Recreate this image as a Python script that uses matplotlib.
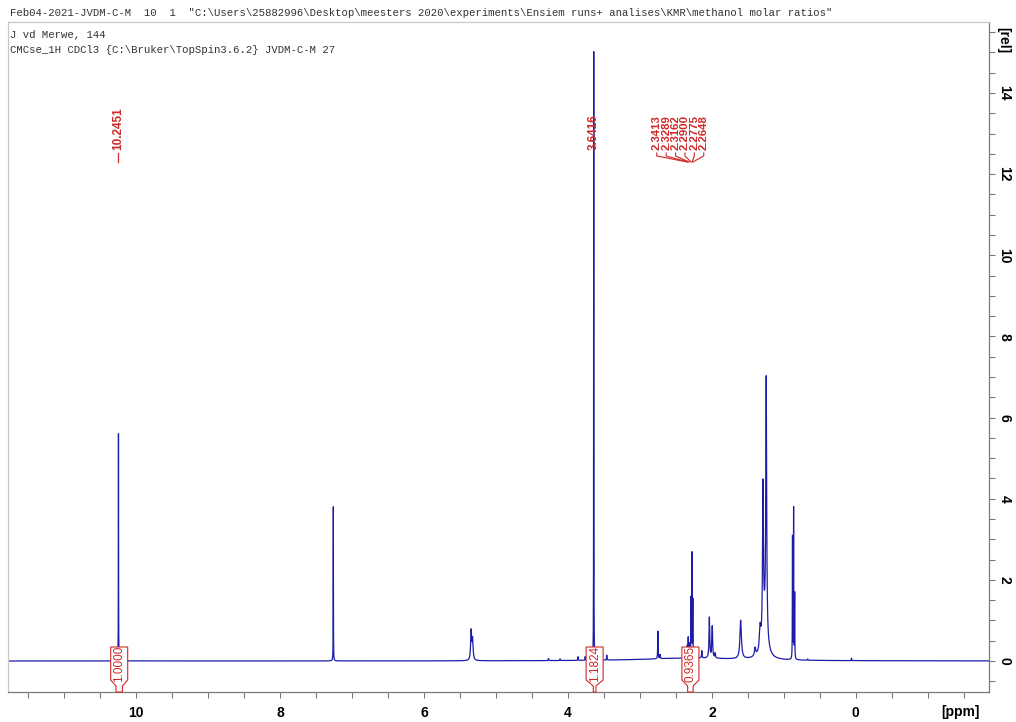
import numpy as np
import matplotlib.pyplot as plt
from matplotlib.ticker import MultipleLocator, FuncFormatter
from matplotlib.transforms import blended_transform_factory

# 1H spectrum, CDCl3 - peak table (ppm, relative height, half width in ppm)
peak_ppm = [10.2451, 7.26, 5.345, 5.325, 4.27, 4.11, 3.86, 3.76, 3.6416, 3.46,
            2.75, 2.72, 2.3413, 2.3289, 2.3162, 2.2900, 2.2775, 2.2648, 2.14,
            2.035, 1.995, 1.955, 1.60, 1.40, 1.33, 1.29, 1.245, 1.27,
            0.88, 0.8648, 0.85, 0.67, 0.06, 2.3]
peak_height = [5.6, 3.8, 0.72, 0.5, 0.05, 0.04, 0.09, 0.09, 15.0, 0.12,
               0.68, 0.1, 0.3, 0.5, 0.35, 1.45, 2.55, 1.4, 0.18,
               1.0, 0.78, 0.12, 0.95, 0.2, 0.5, 3.6, 6.3, 0.85,
               3.0, 3.7, 1.6, 0.03, 0.06, 0.07]
peak_hwhm = [0.0015, 0.0015, 0.008, 0.008, 0.004, 0.004, 0.003, 0.003, 0.0015, 0.003,
             0.003, 0.004, 0.002, 0.002, 0.002, 0.002, 0.002, 0.002, 0.004,
             0.006, 0.006, 0.005, 0.012, 0.01, 0.01, 0.007, 0.007, 0.04,
             0.002, 0.002, 0.002, 0.004, 0.003, 0.8]

# picked peaks
label_ppm = [10.2451, 3.6416]
group_ppm = [2.3413, 2.3289, 2.3162, 2.2900, 2.2775, 2.2648]

# integrals: region limits and values
int_left = [10.28, 3.648, 2.337]
int_right = [10.19, 3.611, 2.260]
int_value = ["1.0000", "1.1824", "0.9365"]

header = ('Feb04-2021-JVDM-C-M  10  1  "C:\\Users\\25882996\\Desktop\\meesters 2020'
          '\\experiments\\Ensiem runs+ analises\\KMR\\methanol molar ratios"')
info = ["J vd Merwe, 144",
        "CMCse_1H CDCl3 {C:\\Bruker\\TopSpin3.6.2} JVDM-C-M 27"]

W, H = 1016, 722
xmin, xmax = -1.85, 11.78
ymin, ymax = -0.764, 15.75

ppm = np.linspace(xmin, xmax, 60000)
ppm = np.union1d(ppm, peak_ppm)
intensity = np.zeros_like(ppm)
for p, h, w in zip(peak_ppm, peak_height, peak_hwhm):
    intensity += h / (1 + ((ppm - p) / w) ** 2)

blue = '#1c1ca8'
red = '#d02828'
grey = '#7a7a7a'

fig = plt.figure(figsize=(W / 100, H / 100), dpi=100)
ax_l, ax_b, ax_w, ax_h = 8, 30, 981, 670
ax = fig.add_axes([ax_l / W, ax_b / H, ax_w / W, ax_h / H])

ax.plot(ppm, intensity, color=blue, lw=0.9, zorder=2)
ax.set_xlim(xmax, xmin)
ax.set_ylim(ymin, ymax)

ppm_per_px = (xmax - xmin) / ax_w
def px_y(y):
    # pixel row (from top of figure) -> axes fraction
    return (H - ax_b - y) / ax_h

# frame
for side in ['top', 'left']:
    ax.spines[side].set_color('#c8c8c8')
for side in ['right', 'bottom']:
    ax.spines[side].set_color(grey)
for s in ax.spines.values():
    s.set_linewidth(0.9)

ax.xaxis.set_major_locator(MultipleLocator(0.5))
ax.xaxis.set_major_formatter(FuncFormatter(
    lambda v, _: f'{v:.0f}' if abs(v - round(v)) < 1e-6 and round(v) % 2 == 0 and 0 <= v <= 10 else ''))
ax.yaxis.set_major_locator(MultipleLocator(0.5))
ax.yaxis.set_major_formatter(FuncFormatter(
    lambda v, _: f'{v:.0f}' if abs(v - round(v)) < 1e-6 and round(v) % 2 == 0 and 0 <= v <= 14 else ''))
ax.yaxis.tick_right()
ax.tick_params(axis='both', direction='out', length=4, width=0.8, color=grey)
ax.tick_params(axis='x', pad=6, labelsize=10)
ax.tick_params(axis='y', pad=2, labelsize=10, labelrotation=-90)
for lab in ax.get_xticklabels() + ax.get_yticklabels():
    lab.set_fontweight('bold')
    lab.set_family('Liberation Sans')
for lab in ax.get_yticklabels():
    lab.set_va('center')

fig.text(960 / W, 1 - 712 / H, '[ppm]', ha='center', va='center',
         fontsize=10, fontweight='bold', family='Liberation Sans')
fig.text(1003 / W, 1 - 40 / H, '[rel]', ha='center', va='center', rotation=-90,
         fontsize=10, fontweight='bold', family='Liberation Sans')

fig.text(10 / W, 1 - 13 / H, header, ha='left', va='center',
         fontsize=7.7, family='Liberation Mono', color='#333333')
for i, line in enumerate(info):
    fig.text(10 / W, 1 - (35 + 15 * i) / H, line, ha='left', va='center',
             fontsize=7.7, family='Liberation Mono', color='#333333')

mix = blended_transform_factory(ax.transData, ax.transAxes)

# peak labels
y_text, y_lead, y_end = px_y(150), px_y(153), px_y(162)
for p in label_ppm:
    ax.text(p, y_text, f'{p:.4f}', rotation=90, ha='center', va='bottom',
            color=red, fontsize=8.5, fontweight='bold', family='Liberation Sans',
            transform=mix, zorder=4)
    if p > 5:
        ax.plot([p, p], [y_lead, y_end], color=red, lw=0.9, transform=mix)

group_centre = 2.44
spacing = 9.4 * ppm_per_px
n = len(group_ppm)
for i, p in enumerate(group_ppm):
    xl = group_centre + (n - 1) / 2 * spacing - i * spacing
    ax.text(xl, y_text, f'{p:.4f}', rotation=90, ha='center', va='bottom',
            color=red, fontsize=8.2, fontweight='bold', family='Liberation Sans',
            transform=mix, zorder=4)
    ax.plot([xl, xl, p], [y_lead, px_y(156), y_end], color=red, lw=0.8,
            transform=mix)

# integral markers, white-filled over the trace
hw = 8.5 * ppm_per_px
y_top, y_sh, y_nk = px_y(647), px_y(680), px_y(686)
for lo, hi, val in zip(int_left, int_right, int_value):
    c = (lo + hi) / 2
    xs = [lo, lo, c + hw, c + hw, c - hw, c - hw, hi, hi]
    ys = [0, y_nk, y_sh, y_top, y_top, y_sh, y_nk, 0]
    ax.fill(xs, ys, facecolor='white', edgecolor=red, lw=0.8, transform=mix,
            clip_on=False, zorder=3)
    ax.text(c, (y_top + y_sh) / 2, val, rotation=90, ha='center', va='center',
            color=red, fontsize=8.5, family='Liberation Sans', transform=mix,
            zorder=4)

fig.savefig('out.png', dpi=100)
